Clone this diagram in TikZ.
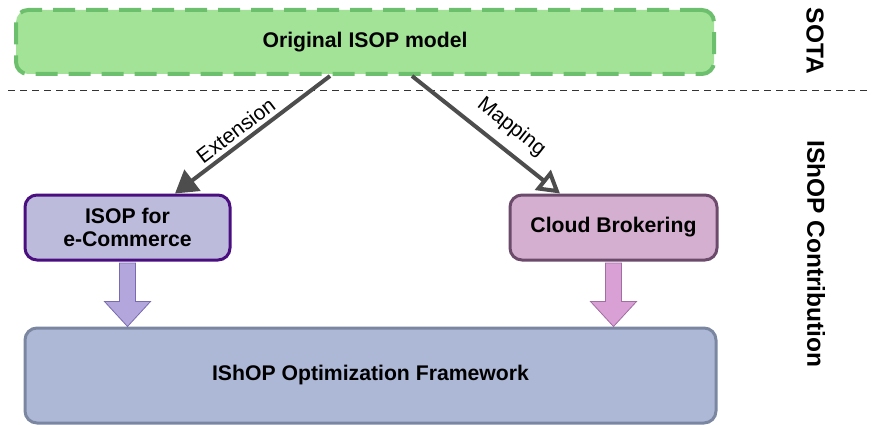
\documentclass[tikz,border=0pt]{standalone}
\usepackage{fontspec}
\setmainfont{Liberation Sans}
\usetikzlibrary{arrows.meta,calc}

\definecolor{sotaFill}{HTML}{A3E398}
\definecolor{sotaLine}{HTML}{6CBF6C}
\definecolor{ecomFill}{HTML}{BDBBDC}
\definecolor{ecomLine}{HTML}{4A0E80}
\definecolor{cloudFill}{HTML}{D5AFD0}
\definecolor{cloudLine}{HTML}{6B4A6B}
\definecolor{fwFill}{HTML}{ADB8D6}
\definecolor{fwLine}{HTML}{7B86A1}
\definecolor{ecomArrFill}{HTML}{B3A6DD}
\definecolor{ecomArrLine}{HTML}{7A6BB0}
\definecolor{cloudArrFill}{HTML}{D9A0D5}
\definecolor{cloudArrLine}{HTML}{A36CA3}
\definecolor{linkGray}{HTML}{4D4D4D}

\tikzset{
  box/.style={rectangle, rounded corners=12pt, line width=3pt, align=center,
    font=\fontsize{21.2}{25}\selectfont\bfseries, inner sep=0pt},
  link/.style={draw=linkGray, line width=4pt},
  linklabel/.style={font=\fontsize{21}{25}\selectfont, inner sep=0pt, sloped},
  blockarrow/.style={line width=0.8pt, line join=miter},
  sidelabel/.style={font=\fontsize{24.5}{28}\selectfont\bfseries, rotate=-90, inner sep=0pt}
}

\begin{document}
\begin{tikzpicture}[x=1pt,y=1pt]
  \useasboundingbox (0,0) rectangle (872,-425);

  % state of the art
  \node[box, fill=sotaFill, draw=sotaLine, line width=4pt,
        dash pattern=on 22pt off 11pt,
        minimum width=698pt, minimum height=64pt] (G) at (365,-42) {Original ISOP model};

  % separator between the two layers
  \coordinate (sepL) at (8,-90);
  \coordinate (sepR) at (868,-90);
  \draw[black!80, line width=0.8pt, dash pattern=on 7pt off 5pt] (sepL) -- (sepR);

  % contribution boxes
  \node[box, fill=ecomFill, draw=ecomLine, minimum width=205pt, minimum height=65pt]
        (L) at (127.5,-227.5) {ISOP for\\[-2pt]e-Commerce};
  \node[box, fill=cloudFill, draw=cloudLine, minimum width=207pt, minimum height=65pt]
        (R) at (613.5,-227.5) {Cloud Brokering};
  \node[box, fill=fwFill, draw=fwLine, minimum width=691pt, minimum height=95pt]
        (F) at (370.5,-375.5) {IShOP Optimization Framework};

  % side labels
  \node[sidelabel] (sota) at (815,-41) {SOTA};
  \node[sidelabel] (contrib) at (816,-254) {IShOP Contribution};

  % derivation arrows
  \draw[link, -{Triangle[length=22pt,width=26pt]}]
    ($(G.south)+(-35,0)$) -- node[linklabel, pos=0.555, above=4pt] {Extension}
    ($(L.north)+(47.5,0)$);
  \draw[link, -{Triangle[open,length=22pt,width=25pt]}]
    ($(G.south)+(47,0)$) -- node[linklabel, pos=0.58, above=10pt] {Mapping}
    ($(R.north)+(-53.5,0)$);

  % block arrows into the framework
  \draw[blockarrow, fill=ecomArrFill, draw=ecomArrLine]
    ($(L.south)+(-8,-1.5)$) -- ($(L.south)+(-8,-40)$) -- ($(L.south)+(-23,-40)$)
    -- (L.south |- F.north) -- ($(L.south)+(23,-40)$) -- ($(L.south)+(8,-40)$)
    -- ($(L.south)+(8,-1.5)$) -- cycle;
  \draw[blockarrow, fill=cloudArrFill, draw=cloudArrLine]
    ($(R.south)+(-8,-1.5)$) -- ($(R.south)+(-8,-40)$) -- ($(R.south)+(-23,-40)$)
    -- (R.south |- F.north) -- ($(R.south)+(23,-40)$) -- ($(R.south)+(8,-40)$)
    -- ($(R.south)+(8,-1.5)$) -- cycle;
\end{tikzpicture}
\end{document}
